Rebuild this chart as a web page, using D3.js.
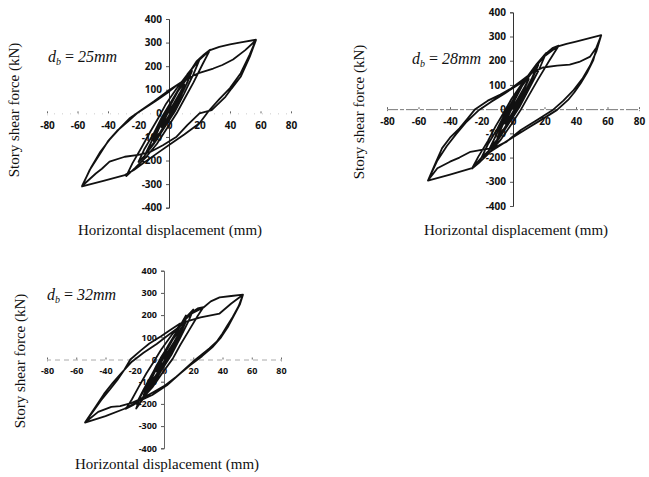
<!DOCTYPE html>
<html>
<head>
<meta charset="utf-8">
<script src="https://cdn.jsdelivr.net/npm/d3@7"></script>
<style>
  html, body { margin: 0; padding: 0; background: #fff; }
  svg { display: block; }
  .tick text { font-family: "Open Sans", Lato, sans-serif; font-weight: 700; fill: #111; }
  .title { font-family: "Liberation Serif", "Times New Roman", serif; font-size: 15px; fill: #111; }
  .note { font-family: "Liberation Serif", "Times New Roman", serif; font-size: 16px; fill: #111; }
</style>
</head>
<body>
<svg id="chart" width="649" height="477"></svg>
<script>
// tick values shared by the three panels
const xTicks = [-80, -60, -40, -20, 0, 20, 40, 60, 80];
const yTicks = [-400, -300, -200, -100, 0, 100, 200, 300, 400];

// hysteresis loops: [displacement (mm), story shear (kN)]
const loop25 = [
  [0,0],[2,28],[5,60],[3,32],[1,0],[-2,-30],[-5,-58],[-3,-28],[-1,0],
  [3,40],[7,85],[10,122],[7,78],[3,20],[-1,-30],[-6,-82],[-10,-118],[-7,-70],[-3,-15],[1,35],
  [6,95],[11,140],[15,178],[11,118],[6,50],[2,-5],[-3,-60],[-9,-120],[-15,-170],[-11,-112],[-6,-45],[-2,10],[4,75],[10,140],[15,182],
  [12,130],[6,55],[0,-25],[-7,-100],[-15,-166],[-10,-100],[-4,-20],[2,50],[8,120],[14,180],[20,228],
  [16,165],[10,85],[4,10],[-3,-60],[-10,-130],[-16,-180],[-20,-206],[-16,-150],[-10,-85],[-5,-20],[1,45],[7,110],[13,170],[18,220],
  [23,250],[27,270],[22,208],[16,130],[10,60],[5,0],[-1,-60],[-8,-130],[-15,-185],[-22,-230],[-28,-266],
  [-24,-212],[-18,-145],[-12,-75],[-7,-20],[-2,40],[5,105],[12,165],[19,222],[27,268],
  [33,282],[40,292],[48,302],[57,312],
  [53,250],[47,170],[40,107],[33,60],[26,10],[20,-42],[10,-90],[0,-134],[-9,-175],[-17,-212],[-23,-240],[-29,-262],[-43,-286],[-57,-310],
  [-52,-240],[-45,-169],[-40,-118],[-34,-74],[-27,-35],[-21,0],[-14,30],[-8,56],[0,92],[7,128],[12,148],[20,172],[29,190],[35,205],[42,228],[50,268],[57,310],
  [53,240],[47,155],[41,105],[37,70],[28,14],[20,0],[12,-50],[5,-99],[-4,-135],[-12,-163],[-20,-176],[-29,-184],[-39,-205],[-44,-235],[-48,-255],[-57,-308],
  [-51,-228],[-45,-163],[-39,-112],[-32,-62],[-26,-22],[-19,10],[-10,50],[0,98],[8,132],[14,150]
];

const loop28 = [
  [0,0],[2,30],[5,62],[3,33],[1,0],[-2,-32],[-5,-60],[-3,-29],[-1,0],
  [3,42],[7,88],[10,124],[7,80],[3,22],[-1,-32],[-6,-84],[-10,-120],[-7,-72],[-3,-16],[1,36],
  [6,98],[11,142],[16,182],[12,122],[6,48],[2,-6],[-3,-62],[-9,-122],[-15,-168],[-11,-110],[-6,-44],[-2,12],[4,78],[10,142],[16,186],
  [12,128],[6,52],[0,-26],[-7,-102],[-15,-164],[-10,-98],[-4,-18],[2,52],[8,124],[15,186],[21,232],
  [17,170],[10,82],[4,8],[-3,-62],[-10,-132],[-16,-176],[-20,-200],[-16,-146],[-10,-82],[-5,-18],[1,48],[7,114],[14,176],[20,224],
  [25,252],[29,262],[23,200],[16,124],[10,56],[5,-2],[-1,-62],[-8,-128],[-15,-180],[-21,-218],[-26,-245],
  [-22,-196],[-16,-132],[-11,-70],[-6,-16],[-1,42],[6,108],[13,166],[20,218],[28,258],
  [34,270],[40,279],[48,292],[56,306],
  [53,250],[51,203],[47,150],[43,107],[39,70],[35,38],[28,-3],[20,-36],[10,-76],[0,-116],[-12,-166],[-20,-200],[-26,-244],[-40,-270],[-54,-295],
  [-49,-220],[-45,-161],[-40,-118],[-34,-79],[-29,-40],[-24,0],[-16,35],[-8,60],[-1,86],[6,121],[12,150],[19,172],[28,180],[36,184],[42,195],[49,217],[53,255],[56,305],
  [53,240],[49,180],[44,125],[38,75],[32,35],[25,-5],[15,-46],[5,-86],[-4,-134],[-12,-160],[-20,-168],[-27,-176],[-34,-200],[-40,-217],[-48,-244],[-54,-295],
  [-48,-212],[-42,-152],[-36,-102],[-30,-56],[-22,-6],[-14,30],[-5,66],[3,100],[10,130]
];

const loop32 = [
  [0,0],[2,27],[5,56],[3,30],[1,0],[-2,-28],[-5,-54],[-3,-26],[-1,0],
  [3,38],[7,80],[10,114],[7,72],[3,18],[-1,-28],[-6,-76],[-10,-110],[-7,-66],[-3,-14],[1,32],
  [6,90],[11,134],[15,172],[11,112],[6,44],[2,-6],[-3,-58],[-9,-112],[-14,-160],[-10,-104],[-6,-42],[-2,10],[4,72],[10,140],[15,198],
  [12,140],[6,60],[0,-24],[-7,-100],[-13,-160],[-19,-200],[-14,-136],[-8,-64],[-3,-4],[3,64],[9,130],[15,190],[20,225],
  [17,176],[11,96],[5,20],[-2,-52],[-9,-128],[-15,-184],[-19,-221],[-16,-166],[-10,-92],[-5,-26],[1,40],[7,108],[13,170],[19,212],
  [23,230],[27,236],[23,196],[17,130],[11,64],[6,4],[-1,-60],[-8,-126],[-15,-176],[-21,-205],[-26,-222],
  [-22,-180],[-17,-120],[-12,-62],[-7,-10],[-2,44],[5,108],[12,164],[19,208],[27,234],
  [32,262],[38,280],[46,286],[54,292],
  [51,240],[47,192],[43,150],[40,117],[36,80],[31,50],[21,-3],[11,-63],[2,-116],[-8,-160],[-18,-190],[-27,-222],[-40,-255],[-54,-284],
  [-48,-230],[-43,-183],[-37,-135],[-32,-93],[-27,-45],[-23,0],[-16,40],[-10,72],[-2,105],[4,132],[11,162],[18,176],[25,190],[38,207],[46,252],[54,292],
  [52,250],[48,200],[44,150],[39,100],[33,55],[26,15],[18,-25],[8,-80],[0,-120],[-8,-150],[-15,-175],[-22,-195],[-30,-210],[-36,-213],[-45,-236],[-54,-284],
  [-47,-215],[-41,-155],[-35,-105],[-29,-60],[-22,-10],[-14,30],[-5,70],[3,110],[9,140]
];

// panel layout in page pixels
const panels = [
  { data: loop25, db: "25", xr: [47, 291], yr: [207.7, 19], xAxisStyle: "faint", fs: 10, pad: 7,
    xTitle: [170, 235], yTitle: [14, 110], note: [48, 62] },
  { data: loop28, db: "28", xr: [387, 639], yr: [206, 12.3], xAxisStyle: "line", fs: 10, pad: 7,
    xTitle: [516, 235], yTitle: [359, 112], note: [412, 64] },
  { data: loop32, db: "32", xr: [47, 281], yr: [448.3, 270.7], xAxisStyle: "dash", fs: 9, pad: 6,
    xTitle: [167, 469], yTitle: [20, 361], note: [47, 300] }
];

const svg = d3.select("#chart");

panels.forEach(drawPanel);

function drawPanel(p) {
    const x = d3.scaleLinear().domain([-80, 80]).range(p.xr);
    const y = d3.scaleLinear().domain([-400, 400]).range(p.yr);
    const g = svg.append("g");

    // x axis through y = 0
    const xa = g.append("g")
        .attr("transform", `translate(0,${y(0)})`)
        .call(d3.axisBottom(x).tickValues(xTicks).tickSize(2).tickPadding(p.pad)
            .tickFormat(d => String(d)));
    xa.selectAll(".tick line").attr("stroke", "#666").attr("transform", "translate(0,-2)");
    xa.selectAll(".tick text").style("font-size", p.fs + "px");
    const dom = xa.select(".domain");
    if (p.xAxisStyle === "faint") {
        dom.attr("stroke", "#ccc").attr("stroke-dasharray", "1,7");
    } else if (p.xAxisStyle === "line") {
        dom.attr("stroke", "#777").attr("stroke-dasharray", "12,2,4,2");
    } else {
        dom.attr("stroke", "#aaa").attr("stroke-dasharray", "5,4");
    }

    // y axis through x = 0
    const ya = g.append("g")
        .attr("transform", `translate(${x(0)},0)`)
        .call(d3.axisLeft(y).tickValues(yTicks).tickSize(3).tickPadding(4)
            .tickFormat(d => String(d)));
    ya.select(".domain").attr("stroke", p.xAxisStyle === "dash" ? "#666" : "#333");
    ya.selectAll(".tick line").attr("stroke", "#555");
    ya.selectAll(".tick text").style("font-size", p.fs + "px");

    // hysteresis curve
    const line = d3.line()
        .x(d => x(d[0]))
        .y(d => y(d[1]));

    g.append("path")
        .datum(p.data)
        .attr("fill", "none")
        .attr("stroke", "#111")
        .attr("stroke-width", 1.8)
        .attr("stroke-linejoin", "round")
        .attr("d", line);

    // axis titles
    g.append("text")
        .attr("class", "title")
        .attr("x", p.xTitle[0])
        .attr("y", p.xTitle[1])
        .attr("text-anchor", "middle")
        .text("Horizontal displacement (mm)");

    g.append("text")
        .attr("class", "title")
        .attr("transform", `translate(${p.yTitle[0] + 5},${p.yTitle[1]}) rotate(-90)`)
        .attr("text-anchor", "middle")
        .text("Story shear force (kN)");

    // bolt diameter note
    const t = g.append("text")
        .attr("class", "note")
        .attr("x", p.note[0])
        .attr("y", p.note[1]);
    t.append("tspan").attr("font-style", "italic").text("d");
    t.append("tspan").attr("font-style", "italic").attr("font-size", "10px").attr("dy", 3).text("b");
    t.append("tspan").attr("dy", -3).text(" = ");
    t.append("tspan").attr("font-style", "italic").text(p.db + "mm");
}
</script>
</body>
</html>
